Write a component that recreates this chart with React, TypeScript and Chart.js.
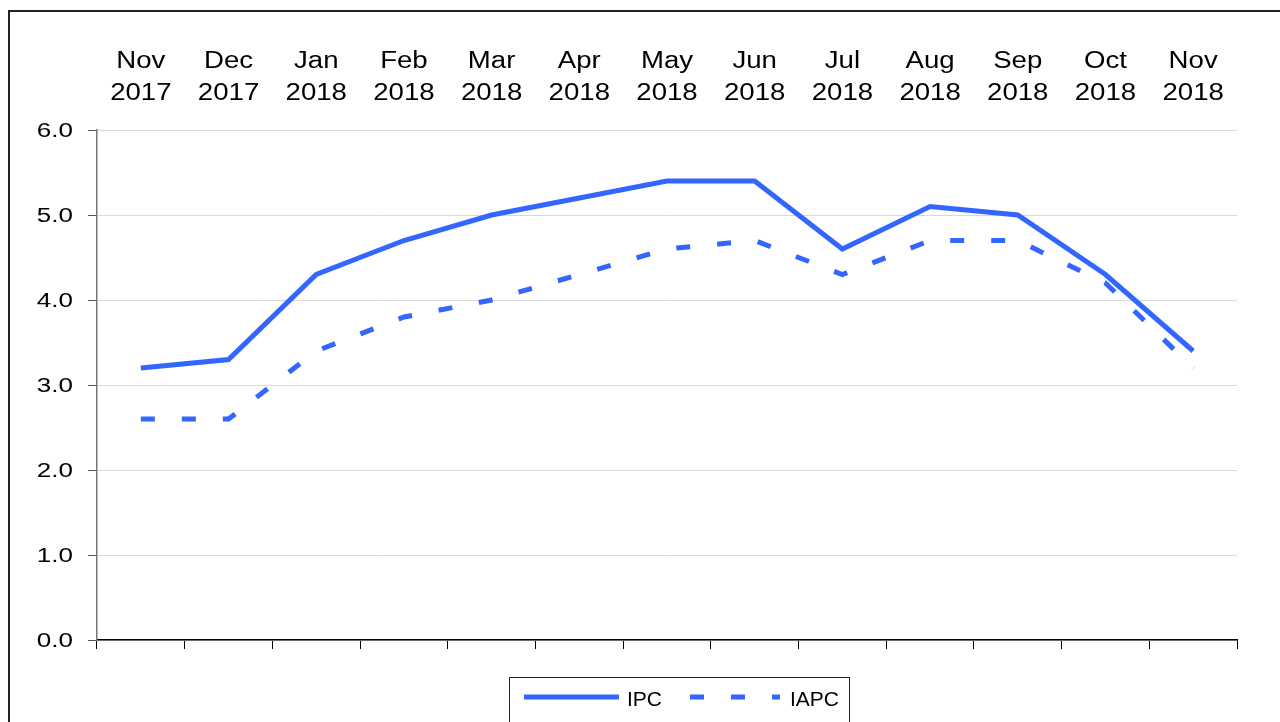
import React, { useEffect, useRef } from "react";
import { Chart, registerables } from "chart.js";

Chart.register(...registerables);

const months = ["Nov", "Dec", "Jan", "Feb", "Mar", "Apr", "May", "Jun", "Jul", "Aug", "Sep", "Oct", "Nov"];
const years = ["2017", "2017", "2018", "2018", "2018", "2018", "2018", "2018", "2018", "2018", "2018", "2018", "2018"];
const ipc = [3.2, 3.3, 4.3, 4.7, 5.0, 5.2, 5.4, 5.4, 4.6, 5.1, 5.0, 4.3, 3.4];
const iapc = [2.6, 2.6, 3.4, 3.8, 4.0, 4.3, 4.6, 4.7, 4.3, 4.7, 4.7, 4.2, 3.2];
const seriesNames = ["IPC", "IAPC"];
const yTicks = [0, 1, 2, 3, 4, 5, 6];

const BLUE = "#3366FF";
const FONT = "'Liberation Sans', Arial, sans-serif";

function stretchedText(ctx: any, text: string, x: number, y: number, align: string, sx: number) {
  ctx.save();
  ctx.translate(x, y);
  ctx.scale(sx, 1);
  ctx.textAlign = align;
  ctx.textBaseline = "middle";
  ctx.fillText(text, 0, 0);
  ctx.restore();
}

const labelPlugin = {
  id: "stretchLabels",
  afterDraw(chart: any) {
    const ctx = chart.ctx;
    const xs = chart.scales.x;
    const ys = chart.scales.y;
    ctx.save();
    ctx.fillStyle = "#000";
    ctx.font = `23px ${FONT}`;
    const lbls = chart.data.labels;
    lbls.forEach((l: string[], i: number) => {
      const px = xs.getPixelForValue(i);
      stretchedText(ctx, l[0], px, 62, "center", 1.2);
      stretchedText(ctx, l[1], px, 94, "center", 1.2);
    });
    ctx.font = `20px ${FONT}`;
    ys.ticks.forEach((t: any) => {
      const py = ys.getPixelForValue(t.value);
      stretchedText(ctx, Number(t.value).toFixed(1), 73, py + 1, "right", 1.3);
    });
    ctx.restore();
  },
};

const legendPlugin = {
  id: "boxLegend",
  afterDraw(chart: any) {
    const ctx = chart.ctx;
    ctx.save();
    ctx.strokeStyle = "#222";
    ctx.lineWidth = 1;
    ctx.strokeRect(509.5, 677.5, 340, 60);
    const ds = chart.data.datasets;
    const y = 697;
    ctx.strokeStyle = ds[0].borderColor;
    ctx.lineWidth = 5;
    ctx.setLineDash([]);
    ctx.beginPath();
    ctx.moveTo(524, y);
    ctx.lineTo(619, y);
    ctx.stroke();
    ctx.fillStyle = "#000";
    ctx.font = `21px ${FONT}`;
    ctx.textBaseline = "middle";
    ctx.textAlign = "left";
    ctx.fillText(ds[0].label, 627, y + 3);
    ctx.strokeStyle = ds[1].borderColor;
    ctx.setLineDash(ds[1].borderDash);
    ctx.beginPath();
    ctx.moveTo(690, y);
    ctx.lineTo(780, y);
    ctx.stroke();
    ctx.setLineDash([]);
    ctx.fillText(ds[1].label, 790, y + 3);
    ctx.restore();
  },
};

export default function App() {
  const ref = useRef<HTMLCanvasElement | null>(null);

  useEffect(() => {
    if (!ref.current) return;
    const labels = months.map((m, i) => [m, years[i]]);
    const chart = new Chart(ref.current, {
      type: "line",
      data: {
        labels,
        datasets: [
          {
            label: seriesNames[0],
            data: ipc,
            borderColor: BLUE,
            borderWidth: 5,
            pointRadius: 0,
            tension: 0,
            fill: false,
            xAxisID: "x",
          },
          {
            label: seriesNames[1],
            data: iapc,
            borderColor: BLUE,
            borderWidth: 5,
            borderDash: [14, 27],
            pointRadius: 0,
            tension: 0,
            fill: false,
            xAxisID: "x",
          },
        ],
      },
      options: {
        animation: false,
        responsive: false,
        maintainAspectRatio: false,
        layout: { padding: { left: 0, right: 43, top: 0, bottom: 0 } },
        plugins: {
          legend: { display: false },
          tooltip: { enabled: false },
        },
        scales: {
          x: {
            type: "category",
            position: "top",
            offset: true,
            grid: { display: false, drawTicks: false },
            border: { display: false },
            ticks: { display: false, autoSkip: false },
            afterFit: (s: any) => {
              s.height = 130;
            },
          },
          x2: {
            type: "category",
            position: "bottom",
            labels: months,
            offset: true,
            grid: {
              display: true,
              offset: true,
              drawOnChartArea: false,
              drawTicks: true,
              tickLength: 9,
              color: "#000",
              lineWidth: 1,
            },
            border: { display: true, color: "#000", width: 1.5 },
            ticks: { display: false },
            afterFit: (s: any) => {
              s.height = 82;
            },
          },
          y: {
            type: "linear",
            min: 0,
            max: 6,
            afterBuildTicks: (s: any) => {
              s.ticks = yTicks.map((v) => ({ value: v }));
            },
            grid: {
              color: "#d9d9d9",
              lineWidth: 1,
              tickLength: 9,
              tickColor: "#555",
            },
            border: { display: true, color: "#777", width: 1.5 },
            ticks: { display: false },
            afterFit: (s: any) => {
              s.width = 97;
            },
          },
        },
      },
      plugins: [labelPlugin, legendPlugin],
    });
    return () => chart.destroy();
  }, []);

  return (
    <div
      style={{
        position: "fixed",
        left: 0,
        top: 0,
        width: 1280,
        height: 722,
        overflow: "hidden",
        background: "#fff",
      }}
    >
      <div
        style={{
          position: "absolute",
          left: 8,
          top: 10,
          width: 1320,
          height: 800,
          border: "2px solid #222",
          boxSizing: "border-box",
        }}
      />
      <canvas
        ref={ref}
        width={1280}
        height={722}
        style={{ position: "absolute", left: 0, top: 0, width: 1280, height: 722 }}
      />
    </div>
  );
}
